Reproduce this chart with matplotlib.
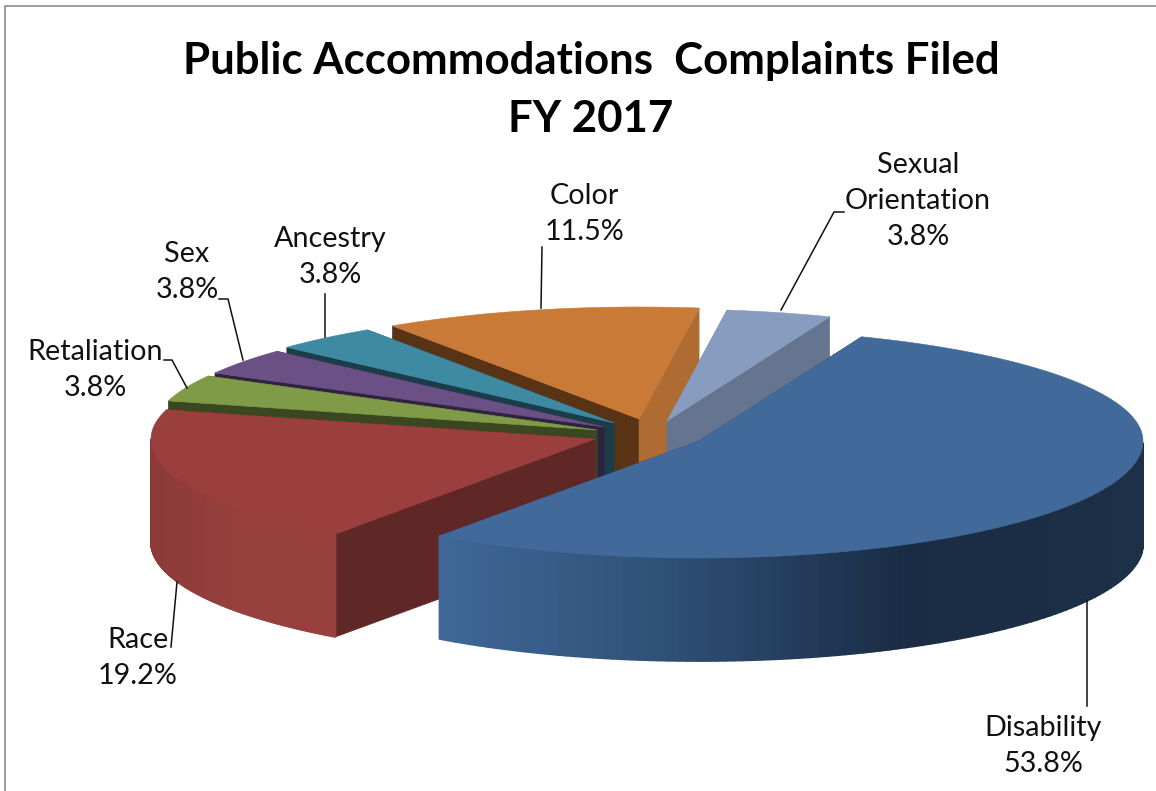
import numpy as np
import matplotlib
matplotlib.use("Agg")
import matplotlib.pyplot as plt
from matplotlib.collections import PolyCollection
from matplotlib.colors import LinearSegmentedColormap

plt.rcParams['font.family'] = ['Lato', 'DejaVu Sans']

# ---- data ----
categories = ["Disability", "Race", "Retaliation", "Sex", "Ancestry", "Color", "Sexual\nOrientation"]
percents = [53.8, 19.2, 3.8, 3.8, 3.8, 11.5, 3.8]
title_text = "Public Accommodations  Complaints Filed\nFY 2017"

# ---- style ----
START_ANGLE = 68.5
RX, RY_BACK, RY_FRONT, DEPTH = 444.0, 112.0, 117.0, 103.0
explode_xy = [(699, 441), (595, 439), (597, 430), (604, 427), (614, 423), (639, 419), (667, 421)]
top_colors = ["#416A9B", "#9A3F3D", "#7F9B48", "#6A5085", "#3E8AA3", "#CA7A37", "#879CBF"]
start_face = ["#2A4566", "#5F2726", "#3A4720", "#2F2340", "#1B3D4A", "#583316", "#66758F"]
end_face = ["#2A4566", "#5F2726", "#3A4720", "#2F2340", "#1B3D4A", "#AE6B32", "#66758F"]
rim_ramps = [["#3F6898", "#2F4F76", "#1A2C44", "#1C3048"],
             ["#8C3A38", "#97403E", "#97403E"],
             ["#3F4B22", "#3F4B22"], ["#34263F", "#34263F"], ["#1C4450", "#1C4450"],
             ["#8A5426", "#8A5426"], ["#66758F", "#66758F"]]
draw_order = [5, 6, 4, 3, 2, 1, 0]
label_pos = [(1043, 746), (138, 658), (95, 370), (187, 272), (330, 257), (584, 214), (918, 201)]
leaders = [[(1087, 600), (1087, 706)],
           [(177, 582), (171, 647)],
           [(187, 388), (172, 360), (164, 360)],
           [(243, 360), (228, 299), (219, 299)],
           [(325, 337), (325, 294)],
           [(541, 308), (542, 247)],
           [(781, 310), (834, 212), (844, 212)]]

fig = plt.figure(figsize=(11.56, 7.91), dpi=100, facecolor="white")
ax = fig.add_axes([0, 0, 1, 1])
ax.set_xlim(0, 1156)
ax.set_ylim(791, 0)
ax.axis("off")

ax.plot([4.5, 4.5, 1156], [791, 5.5, 5.5], color="#8C8C8C", lw=1.2, solid_joinstyle="miter")

fractions = np.array(percents) / sum(percents)
ends = START_ANGLE - np.cumsum(fractions) * 360.0
starts = np.r_[START_ANGLE, ends[:-1]]


def pts(cx, cy, angles):
    a = np.radians(angles)
    s = np.sin(a)
    return np.c_[cx + RX * np.cos(a), cy - np.where(s > 0, RY_BACK, RY_FRONT) * s]


for i in draw_order:
    cx, cy = explode_xy[i]
    ang = np.linspace(starts[i], ends[i], 160)
    arc = pts(cx, cy, ang)
    tip = np.array([[cx, cy]])
    drop = np.array([0, DEPTH])
    z = 1 + draw_order.index(i)
    # radial faces
    for corner, col in ((arc[0], start_face[i]), (arc[-1], end_face[i])):
        q = np.array([tip[0], corner, corner + drop, tip[0] + drop])
        ax.fill(q[:, 0], q[:, 1], fc=col, ec=col, lw=0.4, zorder=z)
    # rim: strips facing the viewer
    ramp = LinearSegmentedColormap.from_list("r", rim_ramps[i])
    facing = np.sin(np.radians(ang)) < 0
    a = arc[facing]
    if len(a) > 1:
        quads = [np.array([a[k], a[k + 1], a[k + 1] + drop, a[k] + drop]) for k in range(len(a) - 1)]
        xm = a[:, 0]
        span = max(xm.max() - xm.min(), 1)
        cols = [ramp((a[k, 0] - xm.min()) / span) for k in range(len(a) - 1)]
        ax.add_collection(PolyCollection(quads, facecolors=cols, edgecolors=cols, linewidths=1.3,
                                         zorder=z))
    poly = np.vstack([tip, arc])
    ax.fill(poly[:, 0], poly[:, 1], fc=top_colors[i], ec=top_colors[i], lw=0.4, zorder=z + 0.5)

for line in leaders:
    xs, ys = zip(*line)
    ax.plot(xs, ys, color="#111111", lw=1.1, zorder=20)

for c, p, (x, y) in zip(categories, percents, label_pos):
    ax.text(x, y, f"{c}\n{p:.1f}%", ha="center", va="center", fontsize=20.7, color="#111111",
            linespacing=1.48, zorder=21)

ax.text(591, 90, title_text, ha="center", va="center", fontsize=31.5, fontweight="bold",
        color="black", linespacing=1.56, zorder=21)

fig.savefig("out.png", dpi=100, facecolor="white")
